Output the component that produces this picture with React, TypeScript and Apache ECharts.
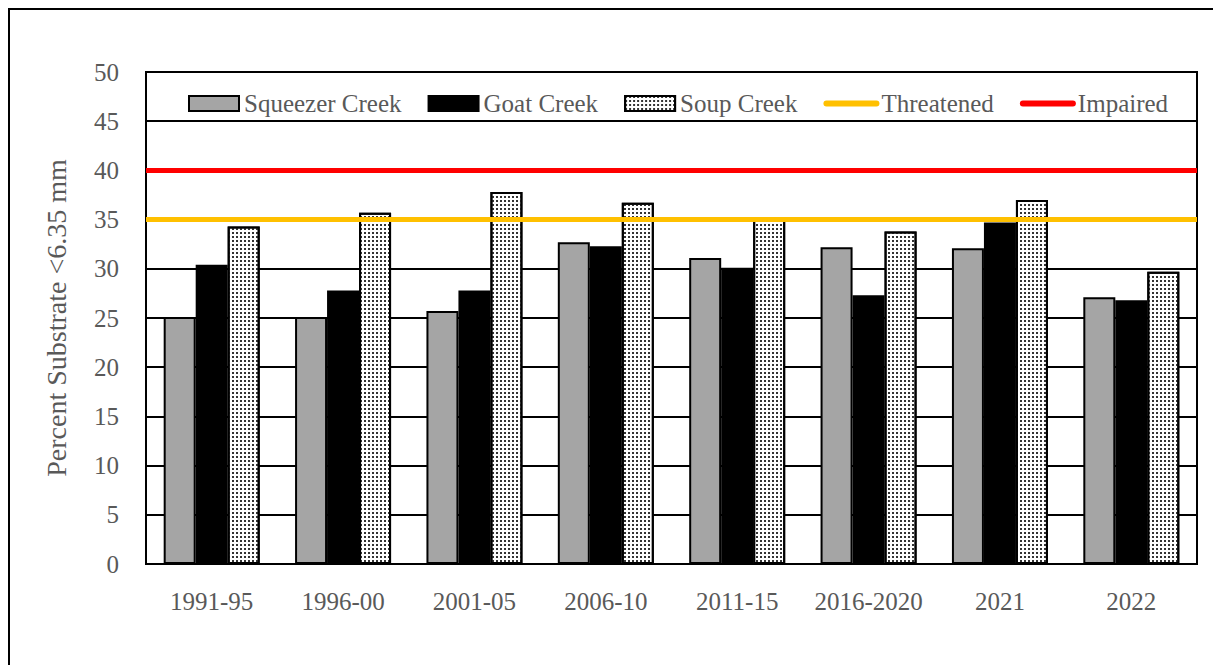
import React, { useEffect, useRef } from "react";
import * as echarts from "echarts";

const categories = ["1991-95", "1996-00", "2001-05", "2006-10", "2011-15", "2016-2020", "2021", "2022"];
const squeezer = [25.1, 25.1, 25.7, 32.7, 31.1, 32.2, 32.1, 27.1];
const goat = [30.4, 27.8, 27.8, 32.3, 30.1, 27.3, 34.7, 26.8];
const soup = [34.3, 35.7, 37.8, 36.7, 35.2, 33.8, 37.0, 29.7];
const threatened = [35, 35, 35, 35, 35, 35, 35, 35];
const impaired = [40, 40, 40, 40, 40, 40, 40, 40];

const FONT = "Liberation Serif";
const TEXT = "#595959";

export default function App() {
  const ref = useRef<HTMLDivElement>(null);
  useEffect(() => {
    if (!ref.current) return;
    const chart = echarts.init(ref.current, null, { renderer: "svg" });
    chart.setOption({
      animation: false,
      backgroundColor: "#fff",
      textStyle: { fontFamily: FONT, color: TEXT },
      graphic: [
        {
          type: "rect",
          shape: { x: 1, y: 1, width: 3000, height: 3000 },
          style: { fill: "none", stroke: "#000", lineWidth: 2 },
          z: 100,
        },
      ],
      grid: {
        left: 138,
        right: 24,
        top: 64,
        bottom: 101,
        show: true,
        borderColor: "#000",
        borderWidth: 2,
        backgroundColor: "transparent",
      },
      legend: {
        left: 175,
        top: 78,
        itemGap: 26,
        itemWidth: 50,
        itemHeight: 15,
        textStyle: { fontFamily: FONT, fontSize: 25, color: TEXT },
        data: [
          { name: "Squeezer Creek", icon: "rect" },
          { name: "Goat Creek", icon: "rect" },
          { name: "Soup Creek", icon: "rect" },
          { name: "Threatened", itemStyle: { opacity: 0 }, lineStyle: { width: 6, cap: "round" } },
          { name: "Impaired", itemStyle: { opacity: 0 }, lineStyle: { width: 6, cap: "round" } },
        ],
      },
      xAxis: [
        {
          type: "category",
          data: categories,
          axisLine: { show: true, lineStyle: { color: "#000", width: 2 } },
          axisTick: { show: false },
          axisLabel: { interval: 0, margin: 25, fontFamily: FONT, fontSize: 25, color: TEXT },
        },
        {
          type: "category",
          data: categories,
          boundaryGap: false,
          show: false,
        },
      ],
      yAxis: {
        type: "value",
        min: 0,
        max: 50,
        interval: 5,
        name: "Percent Substrate <6.35 mm",
        nameLocation: "middle",
        nameRotate: 90,
        nameGap: 76,
        nameTextStyle: { fontFamily: FONT, fontSize: 28, color: TEXT },
        axisLine: { show: true, lineStyle: { color: "#000", width: 2 } },
        axisTick: { show: false },
        axisLabel: { margin: 27, fontFamily: FONT, fontSize: 25, color: TEXT },
        splitLine: { show: true, lineStyle: { color: "#000", width: 2 } },
      },
      series: [
        {
          name: "Squeezer Creek",
          type: "bar",
          data: squeezer,
          barWidth: 32,
          barGap: "0%",
          itemStyle: { color: "#a5a5a5", borderColor: "#000", borderWidth: 2 },
        },
        {
          name: "Goat Creek",
          type: "bar",
          data: goat,
          barWidth: 32,
          barGap: "0%",
          itemStyle: { color: "#000", borderColor: "#000", borderWidth: 2 },
        },
        {
          name: "Soup Creek",
          type: "bar",
          data: soup,
          barWidth: 32,
          barGap: "0%",
          itemStyle: {
            color: "#ffffff",
            borderColor: "#000",
            borderWidth: 2,
            decal: {
              symbol: "rect",
              symbolSize: 1,
              color: "#333",
              dashArrayX: [1.5, 1.5],
              dashArrayY: [1.5, 1.5],
              rotation: 0,
            },
          },
        },
        {
          name: "Threatened",
          type: "line",
          xAxisIndex: 1,
          data: threatened,
          symbol: "none",
          color: "#ffc000",
          lineStyle: { color: "#ffc000", width: 5 },
          z: 5,
        },
        {
          name: "Impaired",
          type: "line",
          xAxisIndex: 1,
          data: impaired,
          symbol: "none",
          color: "#ff0000",
          lineStyle: { color: "#ff0000", width: 5 },
          z: 5,
        },
      ],
    });
    return () => chart.dispose();
  }, []);
  return <div ref={ref} style={{ width: 1213, height: 657 }} />;
}
